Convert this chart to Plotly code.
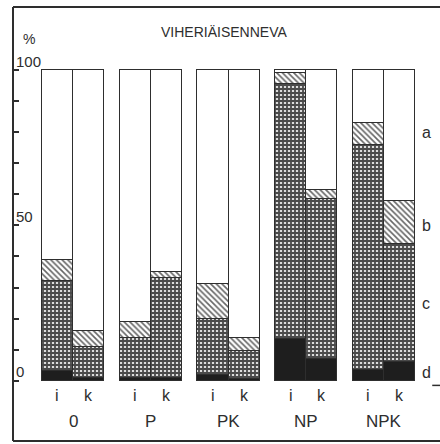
import plotly.graph_objects as go

groups = ["0", "P", "PK", "NP", "NPK"]
subs = ["i", "k"]
# stacked shares (%) per bar: order 0-i, 0-k, P-i, P-k, PK-i, PK-k, NP-i, NP-k, NPK-i, NPK-k
d_vals = [3.0, 1.0, 0.8, 1.0, 2.0, 0.6, 13.5, 7.0, 3.5, 6.0]
c_vals = [29.0, 10.0, 13.0, 32.0, 18.0, 9.0, 82.0, 51.5, 72.5, 38.0]
b_vals = [7.0, 5.0, 5.0, 2.0, 11.0, 4.0, 3.5, 3.0, 7.0, 14.0]
a_vals = [100 - d - c - b for d, c, b in zip(d_vals, c_vals, b_vals)]
ytick_vals = [0, 10, 20, 30, 40, 50, 60, 70, 80, 90, 100]
ytick_labels = {0: "0", 50: "50", 100: "100"}
side_labels = ["a", "b", "c", "d"]
side_label_y = [80, 50, 25, 2.5]

ink = "#2e2e2e"
font = "Liberation Sans, Arial, sans-serif"

xpos = []
for g in range(len(groups)):
    for j in range(len(subs)):
        xpos.append(g * 2.5 + j)

line = dict(color=ink, width=1)
fig = go.Figure()
fig.add_bar(x=xpos, y=d_vals, width=1, marker=dict(color="#1e1e1e", line=line), name="d")
fig.add_bar(x=xpos, y=c_vals, width=1,
            marker=dict(color="#555555", line=line,
                        pattern=dict(shape="+", fgcolor="#4a4a4a", bgcolor="#dcdcdc",
                                     size=4, solidity=0.7, fillmode="replace")), name="c")
fig.add_bar(x=xpos, y=b_vals, width=1,
            marker=dict(color="#777777", line=line,
                        pattern=dict(shape="\\", fgcolor="#666666", bgcolor="white",
                                     size=4, solidity=0.4, fillmode="replace")), name="b")
fig.add_bar(x=xpos, y=a_vals, width=1, marker=dict(color="white", line=line), name="a")

annotations = []
for v, t in ytick_labels.items():
    annotations.append(dict(x=0, xref="paper", y=v, yref="y", text=t, showarrow=False,
                            xanchor="left", yanchor="middle", xshift=1, yshift=9,
                            font=dict(size=15, color=ink, family=font)))
annotations.append(dict(x=0, xref="paper", y=110, yref="y", text="%", showarrow=False,
                        xanchor="left", yanchor="middle", xshift=8, yshift=0,
                        font=dict(size=14, color=ink, family=font)))
annotations.append(dict(x=5.37, xref="x", y=112.3, yref="y", text="VIHERIÄISENNEVA", showarrow=False,
                        xanchor="center", yanchor="middle",
                        font=dict(size=14, color=ink, family=font)))
for i, xp in enumerate(xpos):
    annotations.append(dict(x=xp, xref="x", y=-4.9, yref="y", text=subs[i % 2], showarrow=False,
                            xanchor="center", yanchor="middle",
                            font=dict(size=16, color=ink, family=font)))
for g, name in enumerate(groups):
    annotations.append(dict(x=g * 2.5 + 0.5, xref="x", y=-13.0, yref="y", text=name, showarrow=False,
                            xanchor="center", yanchor="middle",
                            font=dict(size=17, color=ink, family=font)))
for t, yv in zip(side_labels, side_label_y):
    annotations.append(dict(x=11.85, xref="x", y=yv, yref="y", text=t, showarrow=False,
                            xanchor="center", yanchor="middle",
                            font=dict(size=16, color=ink, family=font)))

shapes = [
    dict(type="line", xref="paper", yref="paper", x0=0, x1=1, y0=1, y1=1, line=dict(color=ink, width=2)),
    dict(type="line", xref="paper", yref="paper", x0=0, x1=1, y0=0, y1=0, line=dict(color=ink, width=2)),
    dict(type="line", xref="paper", yref="paper", x0=0, x1=0, y0=0, y1=1, line=dict(color=ink, width=2)),
    dict(type="line", xref="x", yref="y", x0=12.05, x1=12.3, y0=-1.5, y1=-1.5, line=dict(color=ink, width=1.5)),
]

fig.update_layout(
    width=440, height=444,
    margin=dict(l=13, r=0, t=7, b=3),
    paper_bgcolor="white", plot_bgcolor="white",
    barmode="stack", bargap=0, showlegend=False,
    xaxis=dict(range=[-1.43, 12.3], showgrid=False, zeroline=False, showticklabels=False,
               ticks="", showline=False, fixedrange=True),
    yaxis=dict(range=[-19.4, 120.3], showgrid=False, zeroline=False, showline=False,
               tickmode="array", tickvals=ytick_vals, ticktext=[""] * len(ytick_vals),
               ticks="inside", ticklen=6, tickcolor=ink, tickwidth=1.5, fixedrange=True),
    annotations=annotations, shapes=shapes,
)

fig.write_html("out.html")
